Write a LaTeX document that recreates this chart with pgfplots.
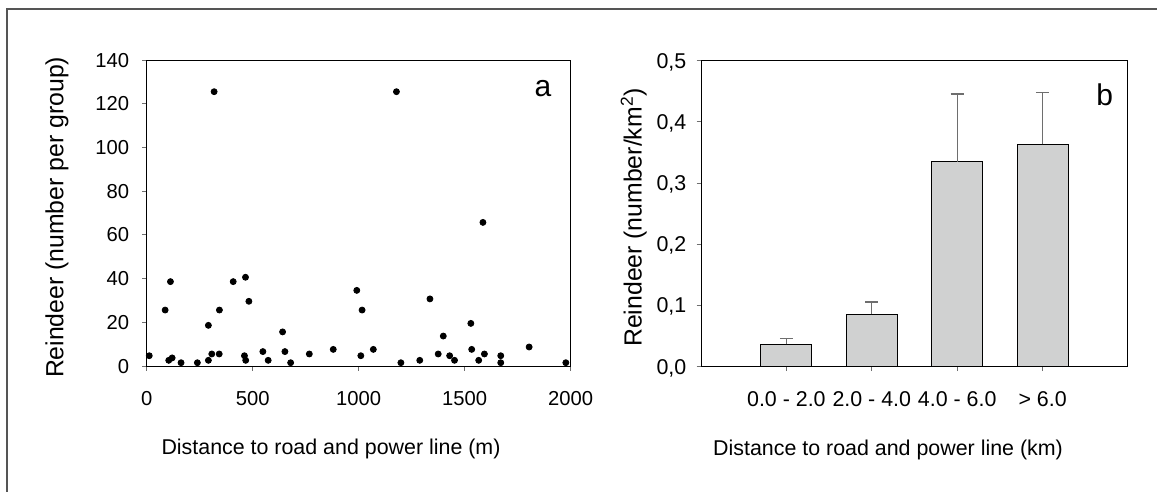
\documentclass[border=0pt]{standalone}
\usepackage{fontspec}
\setmainfont{Liberation Sans}
\usepackage{pgfplots}
\pgfplotsset{compat=1.18}
\definecolor{barfill}{RGB}{208,209,209}
\definecolor{errgray}{RGB}{110,110,110}
\definecolor{framegray}{RGB}{85,85,85}

\pgfplotsset{
  panel/.style={
    scale only axis,
    anchor=south west,
    axis line style={black, line width=0.5pt},
    tick align=outside,
    tick pos=left,
    major tick length=2.25pt,
    tick style={errgray, line width=0.5pt},
    ticklabel style={inner sep=0pt},
    xticklabel style={anchor=base, yshift=-17.5pt},
    yticklabel style={anchor=east, text depth=0pt},
    clip=false,
  },
}

\begin{document}
\begin{tikzpicture}
\useasboundingbox (0,0) rectangle (578.5pt,-246pt);
\draw[framegray, line width=0.9pt] (3.5pt,-250pt) -- (3.5pt,-4.5pt) -- (585pt,-4.5pt);

% a: group size vs distance
\begin{axis}[panel,
    at={(73.35pt,-183pt)},
    width=212pt, height=153pt,
    xmin=0, xmax=2000, ymin=0, ymax=140,
    ticklabel style={font=\fontsize{10.1}{12}\selectfont},
    xtick={0,500,1000,1500,2000},
    xticklabels={0,500,1000,1500,2000},
    ytick={0,20,40,60,80,100,120,140},
    yticklabels={0,20,40,60,80,100,120,140},
    yticklabel style={xshift=-6.35pt},
]
  \addplot[only marks, mark=*, mark size=1.5pt, black] coordinates {
    (12,4.7) (87,25.6) (112,38.6) (104,2.6) (120,3.7) (162,1.5) (239,1.5)
    (291,2.6) (291,18.6) (307,5.5) (318,125.5) (342,5.5) (343,25.6)
    (408,38.6) (466,40.6) (461,4.7) (467,2.6) (482,29.6) (548,6.6)
    (573,2.6) (641,15.6) (652,6.6) (679,1.5) (767,5.5) (880,7.6)
    (991,34.6) (1016,25.6) (1010,4.7) (1069,7.6) (1178,125.5) (1199,1.5)
    (1288,2.6) (1336,30.7) (1375,5.5) (1399,13.7) (1429,4.7) (1452,2.6)
    (1529,19.5) (1533,7.6) (1566,2.6) (1586,65.7) (1593,5.5) (1670,4.7)
    (1670,1.5) (1804,8.7) (1977,1.5)
  };
\end{axis}

% b: density by distance class
\begin{axis}[panel,
    at={(350.5pt,-183.35pt)},
    width=213.5pt, height=153pt,
    xmin=0, xmax=5, ymin=0, ymax=0.5,
    ticklabel style={font=\fontsize{10.7}{12}\selectfont},
    xtick={1,2,3,4},
    xticklabels={0.0 - 2.0,2.0 - 4.0,4.0 - 6.0,> 6.0},
    ytick={0,0.1,0.2,0.3,0.4,0.5},
    yticklabels={{0,0},{0,1},{0,2},{0,3},{0,4},{0,5}},
    yticklabel style={xshift=-4.9pt},
]
  \addplot[ybar, bar width=25.5pt, fill=barfill, draw=black, line width=0.5pt,
    error bars/.cd, y dir=plus, y explicit,
    error bar style={errgray, line width=0.6pt},
    error mark options={rotate=90, errgray, line width=0.6pt, mark size=3.3pt}]
  coordinates {
    (1,0.0366) +- (0,0.0098)
    (2,0.0856) +- (0,0.0201)
    (3,0.3350) +- (0,0.1106)
    (4,0.3634) +- (0,0.0850)
  };
\end{axis}

\node[anchor=base, font=\fontsize{10.7}{12}\selectfont] at (165.5pt,-227pt) {Distance to road and power line (m)};
\node[anchor=base, font=\fontsize{10.7}{12}\selectfont] at (444pt,-227.5pt) {Distance to road and power line (km)};
\node[anchor=base, rotate=90, font=\fontsize{12.4}{14}\selectfont] at (31.65pt,-108.7pt) {Reindeer (number per group)};
\node[anchor=base, rotate=90, font=\fontsize{12.4}{14}\selectfont] at (320.85pt,-108.7pt) {Reindeer (number/km\textsuperscript{2})};
\node[anchor=base, font=\fontsize{15}{18}\selectfont] at (271.5pt,-48.4pt) {a};
\node[anchor=base, font=\fontsize{15}{18}\selectfont] at (552.35pt,-53pt) {b};
\end{tikzpicture}
\end{document}
